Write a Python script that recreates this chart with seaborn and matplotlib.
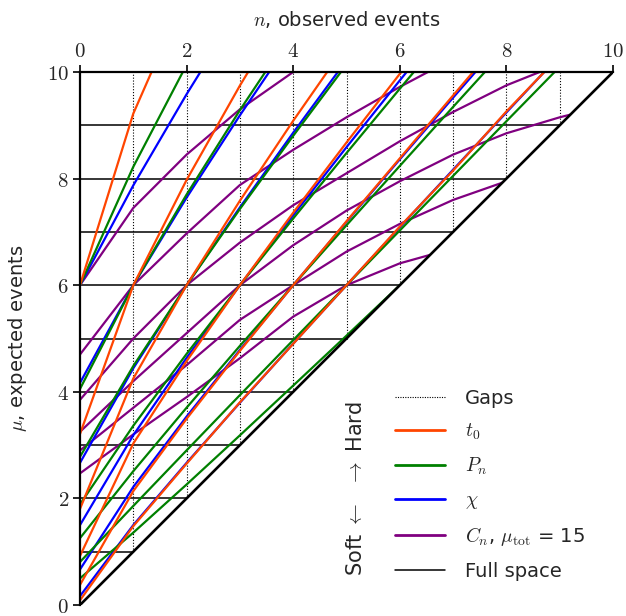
import matplotlib
matplotlib.use("Agg")
import matplotlib.pyplot as plt
from matplotlib.patches import Polygon
from matplotlib.lines import Line2D
import seaborn as sns
import pandas as pd

# ---------------- data: mu read at n = 0, 1, 2, ... ----------------
n_ticks = [0, 2, 4, 6, 8, 10]
mu_ticks = [0, 2, 4, 6, 8, 10]
grid_levels = [1, 2, 3, 4, 5, 6, 7, 8, 9]

t0_curves = [
    [6.0, 9.22, 11.5],
    [3.208, 6.0, 7.975, 9.745, 11.4],
    [1.803, 4.25, 6.0, 7.585, 9.085, 10.52],
    [0.921, 3.03, 4.575, 6.0, 7.36, 8.677, 9.965, 11.235],
    [0.378, 2.138, 3.494, 4.768, 6.0, 7.2, 8.38, 9.56, 10.734],
    [0.088, 1.48, 2.652, 3.803, 4.9, 6.0, 7.1, 8.15, 9.26, 10.3],
]
pn_curves = [
    [6.0, 8.222, 10.136],
    [4.054, 6.0, 7.701, 9.284, 10.786],
    [2.781, 4.483, 6.0, 7.430, 8.803, 10.140],
    [1.889, 3.363, 4.711, 6.0, 7.252, 8.479, 9.686, 10.878],
    [1.255, 2.511, 3.702, 4.862, 6.0, 7.125, 8.238, 9.345, 10.444],
    [0.808, 1.858, 2.901, 3.938, 4.970, 6.0, 7.027, 8.051, 9.076, 10.098],
    [0.500, 1.358, 2.261, 3.183, 4.116, 5.053, 6.0, 6.949],
]
chi_curves = [
    [6.0, 7.873, 9.583, 11.196],
    [4.167, 6.0, 7.643, 9.187, 10.667],
    [2.667, 4.442, 6.0, 7.460, 8.861, 10.221],
    [1.5, 3.186, 4.637, 6.0, 7.312, 8.589, 9.842, 11.076],
    [0.667, 2.215, 3.535, 4.786, 6.0, 7.189, 8.361, 9.519, 10.667],
    [0.167, 1.5, 2.667, 3.795, 4.904, 6.0, 7.087, 8.167, 9.241, 10.311],
]
cn_curves = [
    [6.0, 7.45, 8.45, 9.3, 10.0, 10.6],
    [4.7, 6.0, 6.97, 7.88, 8.54, 9.15, 9.72, 10.25],
    [3.85, 5.0, 6.0, 6.8, 7.5, 8.1, 8.7, 9.25, 9.75, 10.15],
    [3.25, 4.2, 5.1, 6.0, 6.75, 7.4, 7.95, 8.45, 8.85, 9.15, 9.4],
    [2.9, 3.7, 4.5, 5.35, 6.0, 6.63, 7.15, 7.6, 7.95],
    [2.47, 3.2, 3.9, 4.63, 5.41, 6.0, 6.41, 6.69],
]
families = ["Gaps", "$t_0$", "$P_n$", "$\\chi$", "$C_n$, $\\mu_{\\rm tot}$ = 15", "Full space"]
colors = {"t0": "#FF4500", "Pn": "#008000", "chi": "#0000FF", "Cn": "#800080"}

# ---------------- build long table ----------------
rows = []
for fam, curves in [("t0", t0_curves), ("Pn", pn_curves), ("chi", chi_curves), ("Cn", cn_curves)]:
    for i, mus in enumerate(curves):
        for n, mu in enumerate(mus):
            rows.append({"fam": fam, "curve": f"{fam}{i}", "n": n, "mu": mu})
df = pd.DataFrame(rows)

sns.set_theme(style="white")
plt.rcParams["font.family"] = ["DejaVu Sans"]
plt.rcParams["mathtext.fontset"] = "cm"

fig = plt.figure(figsize=(6.26, 6.16), dpi=100)
ax = fig.add_axes([80 / 626, 1 - 605 / 616, 533 / 626, 533 / 616])

tri = Polygon([(0, 0), (0, 10), (10, 10)], closed=True, transform=ax.transData,
              facecolor="none", edgecolor="none")
ax.add_patch(tri)

# gaps (dotted verticals)
gdf = pd.DataFrame({"n": [g for g in grid_levels for _ in (0, 1)],
                    "mu": [v for g in grid_levels for v in (g, 10)],
                    "id": [g for g in grid_levels for _ in (0, 1)]})
sns.lineplot(data=gdf, x="n", y="mu", units="id", estimator=None, sort=False,
             color="black", lw=0.8, linestyle=(0, (1, 1.6)), ax=ax, legend=False)
# full space horizontal lines
hdf = pd.DataFrame({"n": [v for g in grid_levels for v in (0, g)],
                    "mu": [g for g in grid_levels for _ in (0, 1)],
                    "id": [g for g in grid_levels for _ in (0, 1)]})
sns.lineplot(data=hdf, x="n", y="mu", units="id", estimator=None, sort=False,
             color="black", lw=1.1, ax=ax, legend=False)

before = len(ax.lines)
for fam in ["Cn", "chi", "Pn", "t0"]:
    sub = df[df.fam == fam]
    sns.lineplot(data=sub, x="n", y="mu", units="curve", estimator=None, sort=False,
                 color=colors[fam], lw=1.6, ax=ax, legend=False)
for ln in ax.lines[before:]:
    ln.set_clip_path(tri)
    ln.set_solid_joinstyle("miter")

# diagonal
ddf = pd.DataFrame({"n": [0, 10], "mu": [0, 10]})
sns.lineplot(data=ddf, x="n", y="mu", color="black", lw=1.9, ax=ax, legend=False)

ax.set_xlim(0, 10)
ax.set_ylim(0, 10)
ax.set_xticks(n_ticks)
ax.set_yticks(mu_ticks)
ax.set_xticklabels([f"${t}$" for t in n_ticks])
ax.set_yticklabels([f"${t}$" for t in mu_ticks])
ax.xaxis.tick_top()
ax.xaxis.set_label_position("top")
ax.tick_params(axis="both", direction="out", length=5, width=1.2, labelsize=15, color="black", pad=3)
ax.tick_params(axis="x", top=True, bottom=False)
ax.tick_params(axis="y", left=True, right=False)
for s in ["right", "bottom"]:
    ax.spines[s].set_visible(False)
for s in ["top", "left"]:
    ax.spines[s].set_linewidth(1.6)
    ax.spines[s].set_color("black")
ax.set_xlabel("$n$, observed events", fontsize=14, labelpad=11)
ax.set_ylabel("$\\mu$, expected events", fontsize=14, labelpad=13)

handles = [
    Line2D([], [], color="black", lw=0.8, linestyle=(0, (1, 1.2))),
    Line2D([], [], color=colors["t0"], lw=2),
    Line2D([], [], color=colors["Pn"], lw=2),
    Line2D([], [], color=colors["chi"], lw=2),
    Line2D([], [], color=colors["Cn"], lw=2),
    Line2D([], [], color="black", lw=1.1),
]
ax.legend(handles, families, loc="upper left", bbox_to_anchor=(0.558, 0.438), frameon=False,
          fontsize=14, handlelength=2.6, labelspacing=0.70, handletextpad=1.0)
ax.text(0.517, 0.218, "Soft $\\leftarrow$  $\\rightarrow$ Hard", transform=ax.transAxes,
        rotation=90, fontsize=15, ha="center", va="center")

fig.savefig("out.png", dpi=100)
